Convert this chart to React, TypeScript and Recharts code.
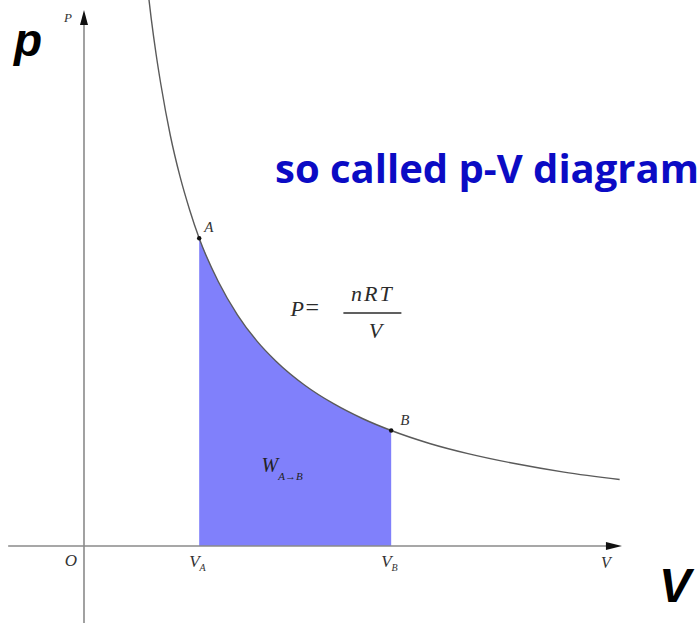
import {
  ComposedChart,
  Line,
  Area,
  XAxis,
  YAxis,
  ReferenceLine,
  ReferenceDot,
} from 'recharts';

// isotherm P = nRT / V, sampled volumes and pressures
const curveV = [0.66, 0.7, 0.75, 0.8, 0.9, 1.0, 1.1, 1.2, 1.4, 1.6, 1.8, 2.0, 2.3, 2.6, 2.9, 3.2, 3.6, 4.0, 4.5, 5.0, 5.58];
const curveP = [6.06, 5.71, 5.33, 5.0, 4.44, 4.0, 3.64, 3.33, 2.86, 2.5, 2.22, 2.0, 1.74, 1.54, 1.38, 1.25, 1.11, 1.0, 0.89, 0.8, 0.72];

// states A and B
const stateV = [1.2, 3.2];
const stateP = [3.33, 1.25];
const stateNames = ['A', 'B'];

const X_DOMAIN: [number, number] = [-0.875, 6.417];
const Y_DOMAIN: [number, number] = [-0.833, 5.909];

const VA = stateV[0];
const VB = stateV[1];

const rows = curveV.map((v, i) => ({
  v,
  p: curveP[i],
  work: v >= VA && v <= VB ? curveP[i] : null,
}));

const SERIF = '"Liberation Serif", "DejaVu Serif", serif';
const INK = '#333';
const AXIS = '#8a8a8a';

function UpArrow({ cx, cy }: { cx?: number; cy?: number }) {
  if (cx == null || cy == null) return null;
  return (
    <g>
      <polygon points={`${cx},${cy} ${cx - 4},${cy + 15} ${cx + 4},${cy + 15}`} fill="#111" />
      <text x={cx - 20} y={cy + 12} fontFamily={SERIF} fontStyle="italic" fontSize={13} fill={INK}>
        P
      </text>
    </g>
  );
}

function RightArrow({ cx, cy }: { cx?: number; cy?: number }) {
  if (cx == null || cy == null) return null;
  return (
    <g>
      <polygon points={`${cx},${cy} ${cx - 16},${cy - 4} ${cx - 16},${cy + 4}`} fill="#111" />
      <text x={cx - 21} y={cy + 22} fontFamily={SERIF} fontStyle="italic" fontSize={16} fill={INK}>
        V
      </text>
    </g>
  );
}

function StateDot({ cx, cy, name }: { cx?: number; cy?: number; name: string }) {
  if (cx == null || cy == null) return null;
  const dx = name === 'A' ? 5 : 9;
  return (
    <g>
      <circle cx={cx} cy={cy} r={2.2} fill="#111" />
      <text x={cx + dx} y={cy - 6} fontFamily={SERIF} fontStyle="italic" fontSize={15} fill={INK}>
        {name}
      </text>
    </g>
  );
}

function VolumeTick({ cx, cy, sub }: { cx?: number; cy?: number; sub: string }) {
  if (cx == null || cy == null) return null;
  return (
    <text x={cx - 10} y={cy + 21} fontFamily={SERIF} fontStyle="italic" fontSize={17} fill={INK}>
      V
      <tspan fontSize={10} dy={4}>
        {sub}
      </tspan>
    </text>
  );
}

function OriginLabel({ cx, cy }: { cx?: number; cy?: number }) {
  if (cx == null || cy == null) return null;
  return (
    <text x={cx - 7} y={cy + 20} textAnchor="end" fontFamily={SERIF} fontStyle="italic" fontSize={17} fill={INK}>
      O
    </text>
  );
}

function Formula({ cx, cy }: { cx?: number; cy?: number }) {
  if (cx == null || cy == null) return null;
  return (
    <g fontFamily={SERIF} fill="#2b2b2b">
      <text x={cx} y={cy} fontSize={22} fontStyle="italic">
        P
      </text>
      <text x={cx + 15} y={cy - 1} fontSize={24}>
        =
      </text>
      <text x={cx + 82} y={cy - 15} textAnchor="middle" fontStyle="italic" fontSize={22} letterSpacing={2}>
        nRT
      </text>
      <line x1={cx + 53} x2={cx + 111} y1={cy - 3} y2={cy - 3} stroke="#2b2b2b" strokeWidth={1.5} />
      <text x={cx + 85} y={cy + 22} textAnchor="middle" fontStyle="italic" fontSize={22}>
        V
      </text>
    </g>
  );
}

function WorkLabel({ cx, cy }: { cx?: number; cy?: number }) {
  if (cx == null || cy == null) return null;
  return (
    <text x={cx} y={cy} fontFamily={SERIF} fontStyle="italic" fontSize={20} fill="#222">
      W
      <tspan fontSize={11} dy={8}>
        {'A\u2192B'}
      </tspan>
    </text>
  );
}

export default function App() {
  return (
    <div style={{ position: 'absolute', left: 0, top: 0, width: 700, height: 623, background: '#fff' }}>
      <ComposedChart width={700} height={623} data={rows} margin={{ top: 0, right: 0, bottom: 0, left: 0 }}>
        <XAxis type="number" dataKey="v" domain={X_DOMAIN} hide allowDataOverflow />
        <YAxis type="number" domain={Y_DOMAIN} hide allowDataOverflow />

        <Area
          type="monotone"
          dataKey="work"
          baseValue={0}
          fill="#8080fb"
          fillOpacity={1}
          stroke="none"
          isAnimationActive={false}
        />

        {/* coordinate axes */}
        <ReferenceLine
          segment={[{ x: 0, y: 5.75 }, { x: 0, y: -0.833 }]}
          stroke={AXIS}
          strokeWidth={1.6}
        />
        <ReferenceLine
          segment={[{ x: -0.79, y: 0 }, { x: 5.5, y: 0 }]}
          stroke={AXIS}
          strokeWidth={1.6}
        />

        <Line
          type="monotone"
          dataKey="p"
          stroke="#5a5a5a"
          strokeWidth={1.4}
          dot={false}
          isAnimationActive={false}
        />

        <ReferenceDot x={0} y={5.8} shape={(props: any) => <UpArrow {...props} />} />
        <ReferenceDot x={5.604} y={0} shape={(props: any) => <RightArrow {...props} />} />
        <ReferenceDot x={0} y={0} shape={(props: any) => <OriginLabel {...props} />} />
        <ReferenceDot x={VA} y={0} shape={(props: any) => <VolumeTick {...props} sub="A" />} />
        <ReferenceDot x={VB} y={0} shape={(props: any) => <VolumeTick {...props} sub="B" />} />

        {stateV.map((v, i) => (
          <ReferenceDot
            key={stateNames[i]}
            x={v}
            y={stateP[i]}
            shape={(props: any) => <StateDot {...props} name={stateNames[i]} />}
          />
        ))}

        <ReferenceDot x={2.15} y={2.49} shape={(props: any) => <Formula {...props} />} />
        <ReferenceDot x={1.85} y={0.8} shape={(props: any) => <WorkLabel {...props} />} />
      </ComposedChart>

      <svg
        width={700}
        height={623}
        style={{ position: 'absolute', left: 0, top: 0, pointerEvents: 'none' }}
      >
        <text
          x={14}
          y={56}
          fontFamily='"Liberation Sans", Arial, sans-serif'
          fontWeight="bold"
          fontStyle="italic"
          fontSize={46}
          fill="#000"
        >
          p
        </text>
        <text
          x={659}
          y={602}
          fontFamily='"Liberation Sans", Arial, sans-serif'
          fontWeight="bold"
          fontStyle="italic"
          fontSize={48}
          fill="#000"
        >
          V
        </text>
        <text
          x={275}
          y={183}
          fontFamily='"Open Sans", "Noto Sans", sans-serif'
          fontWeight="bold"
          fontSize={40}
          fill="#0b0bc4"
        >
          so called p-V diagram
        </text>
      </svg>
    </div>
  );
}
